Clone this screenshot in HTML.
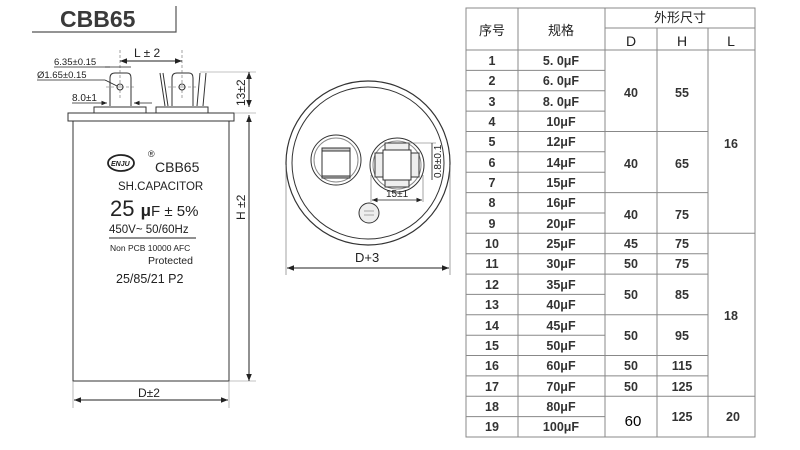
<!DOCTYPE html>
<html><head><meta charset="utf-8"><style>
body{margin:0;background:#fff;}
svg{display:block;font-family:"Liberation Sans","Noto Sans CJK SC",sans-serif;}
</style></head><body>
<svg width="800" height="450" viewBox="0 0 800 450" xmlns="http://www.w3.org/2000/svg">
<defs>
<marker id="a" viewBox="0 0 10 10" refX="10" refY="5" markerWidth="7" markerHeight="7" orient="auto-start-reverse"><path d="M0,1 L10,5 L0,9z" fill="#222"/></marker>
</defs>
<text x="60" y="27" font-size="23" font-weight="bold" fill="#3a3a3a">CBB65</text>
<polyline points="32,32 176,32 176,6" fill="none" stroke="#555" stroke-width="1.2"/>

<g stroke="#333" fill="none" stroke-width="1">
<rect x="68" y="113" width="166" height="8"/>
<rect x="73" y="121" width="156" height="260"/>
<rect x="94" y="107" width="52" height="6"/>
<rect x="156" y="107" width="52" height="6"/>
<path d="M110,106 V78 Q110,73 115,73 H127 Q131,73 131,78 V106"/>
<path d="M172,106 V78 Q172,73 177,73 H189 Q193,73 193,78 V106"/>
<path d="M160,73 L165,106 M168,106 L163,73 M200,73 L197,106 M203,106 L206,73"/>
</g>
<g stroke="#666" stroke-width="0.6" stroke-dasharray="3,2" fill="none">
<line x1="120" y1="50" x2="120" y2="100"/><line x1="182" y1="50" x2="182" y2="100"/>
<line x1="106" y1="87" x2="136" y2="87"/><line x1="168" y1="87" x2="198" y2="87"/>
</g>
<circle cx="120" cy="87" r="3" fill="none" stroke="#333"/>
<circle cx="182" cy="87" r="3" fill="none" stroke="#333"/>
<line x1="120" y1="61" x2="182" y2="61" stroke="#222" marker-start="url(#a)" marker-end="url(#a)"/>
<text x="134" y="57" font-size="12" fill="#222">L ± 2</text>
<text x="54" y="65" font-size="9.5" fill="#222">6.35±0.15</text>
<line x1="54" y1="67" x2="110" y2="67" stroke="#222" stroke-width="0.8"/>
<line x1="105" y1="67" x2="131" y2="67" stroke="#222" stroke-width="0.8"/>
<text x="37" y="78" font-size="9.5" fill="#222">Ø1.65±0.15</text>
<line x1="37" y1="80" x2="105" y2="80" stroke="#222" stroke-width="0.8"/>
<line x1="105" y1="80" x2="117" y2="86" stroke="#222" stroke-width="0.8"/>
<text x="72" y="101" font-size="10" fill="#222">8.0±1</text>
<line x1="72" y1="103" x2="107" y2="103" stroke="#222" stroke-width="0.8" marker-end="url(#a)"/>
<line x1="152" y1="103" x2="134" y2="103" stroke="#222" stroke-width="0.8" marker-end="url(#a)"/>
<line x1="200" y1="72" x2="256" y2="72" stroke="#888" stroke-width="0.6"/>
<line x1="234" y1="113" x2="256" y2="113" stroke="#888" stroke-width="0.6"/>
<line x1="229" y1="381" x2="256" y2="381" stroke="#888" stroke-width="0.6"/>
<line x1="249" y1="72" x2="249" y2="107" stroke="#222" marker-start="url(#a)" marker-end="url(#a)"/>
<line x1="249" y1="115" x2="249" y2="381" stroke="#222" marker-start="url(#a)" marker-end="url(#a)"/>
<text transform="translate(245,106) rotate(-90)" font-size="12" fill="#222">13±2</text>
<text transform="translate(245,220) rotate(-90)" font-size="12" fill="#222">H ±2</text>
<line x1="73" y1="381" x2="73" y2="408" stroke="#888" stroke-width="0.6"/>
<line x1="229" y1="381" x2="229" y2="408" stroke="#888" stroke-width="0.6"/>
<line x1="74" y1="400" x2="228" y2="400" stroke="#222" marker-start="url(#a)" marker-end="url(#a)"/>
<text x="138" y="397" font-size="12" fill="#222">D±2</text>
<ellipse cx="121" cy="163" rx="13" ry="8" fill="none" stroke="#222" stroke-width="1.8"/>
<text x="111" y="166" font-size="7" font-style="italic" font-weight="bold" fill="#222">ENJU</text>
<text x="148" y="157" font-size="9" fill="#222">®</text>
<text x="155" y="172" font-size="14" fill="#222">CBB65</text>
<text x="118" y="190" font-size="11.5" fill="#222">SH.CAPACITOR</text>
<text x="110" y="216" font-size="22" fill="#222">25 <tspan font-size="17" font-weight="bold">μ</tspan><tspan font-size="15">F ± 5%</tspan></text>
<text x="109" y="233" font-size="11.5" fill="#222">450V~ 50/60Hz</text>
<line x1="109" y1="238" x2="196" y2="238" stroke="#222"/>
<text x="110" y="251" font-size="8.5" fill="#222">Non PCB  10000 AFC</text>
<text x="148" y="264" font-size="10.5" fill="#222">Protected</text>
<text x="116" y="283" font-size="12.5" fill="#222">25/85/21 P2</text>

<g stroke="#333" fill="none">
<circle cx="368" cy="163" r="82" stroke-width="1.2"/>
<circle cx="368" cy="163" r="76"/>
<circle cx="336" cy="160" r="25"/><circle cx="336" cy="160" r="22" stroke="#888"/>
<rect x="322" y="148" width="28" height="28"/>
<rect x="322" y="148" width="28" height="3" fill="#ccc"/>
<rect x="322" y="176" width="28" height="2" fill="#ccc"/>
<circle cx="397" cy="165" r="27"/><circle cx="397" cy="165" r="24" stroke="#888"/>
<rect x="383" y="150" width="28" height="30"/>
<rect x="385" y="143" width="24" height="7" fill="#eee"/>
<rect x="385" y="180" width="24" height="7" fill="#eee"/>
<rect x="375" y="153" width="8" height="24" fill="#eee"/>
<rect x="411" y="153" width="8" height="24" fill="#eee"/>
<circle cx="369" cy="213" r="10" fill="#eee"/>
</g>
<line x1="364" y1="211" x2="374" y2="211" stroke="#777" stroke-width="0.6"/>
<line x1="364" y1="215" x2="374" y2="215" stroke="#777" stroke-width="0.6"/>
<line x1="406" y1="143" x2="436" y2="143" stroke="#666" stroke-width="0.6"/>
<line x1="432" y1="143" x2="432" y2="180" stroke="#222" stroke-width="0.8"/>
<text transform="translate(441,178) rotate(-90)" font-size="10" fill="#222">0.8±0.1</text>
<line x1="371" y1="175" x2="371" y2="202" stroke="#666" stroke-width="0.6"/>
<line x1="423" y1="175" x2="423" y2="202" stroke="#666" stroke-width="0.6"/>
<line x1="372" y1="200" x2="422" y2="200" stroke="#222" stroke-width="0.8" marker-start="url(#a)" marker-end="url(#a)"/>
<text x="386" y="197" font-size="10" fill="#222">15±1</text>
<line x1="286" y1="165" x2="286" y2="275" stroke="#666" stroke-width="0.6"/>
<line x1="450" y1="165" x2="450" y2="275" stroke="#666" stroke-width="0.6"/>
<line x1="287" y1="268" x2="449" y2="268" stroke="#222" marker-start="url(#a)" marker-end="url(#a)"/>
<text x="355" y="262" font-size="13" fill="#222">D+3</text>

<g stroke="#888" stroke-width="1" fill="none">
<rect x="466" y="8" width="289" height="429"/>
<line x1="518" y1="8" x2="518" y2="437"/>
<line x1="605" y1="8" x2="605" y2="437"/>
<line x1="657" y1="28" x2="657" y2="437"/>
<line x1="708" y1="28" x2="708" y2="437"/>
<line x1="605" y1="28" x2="755" y2="28"/>
<line x1="466" y1="50" x2="755" y2="50"/>
</g>
<g stroke="#888" stroke-width="1">
<path d="M466,70.4H605M466,90.7H605M466,111.1H605M466,131.5H605M466,151.8H605M466,172.2H605M466,192.6H605M466,213H605M466,233.3H605M466,253.7H605M466,274.1H605M466,294.4H605M466,314.8H605M466,335.2H605M466,355.5H605M466,375.9H605M466,396.3H605M466,416.6H605"/>
<path d="M605,131.5H708M605,192.6H708M605,233.3H755M605,253.7H708M605,274.1H708M605,314.8H708M605,355.5H708M605,375.9H708M605,396.3H755"/>
</g>
<g font-size="13" fill="#222" text-anchor="middle">
<text x="492" y="35">序号</text><text x="561" y="35">规格</text>
<text x="680" y="22">外形尺寸</text>
<text x="631" y="46" font-size="14">D</text><text x="682" y="46" font-size="14">H</text><text x="731" y="46" font-size="14">L</text>
</g>
<g font-size="12.5" font-weight="bold" fill="#333" text-anchor="middle">
<text x="492" y="65">1</text><text x="492" y="85">2</text><text x="492" y="106">3</text><text x="492" y="126">4</text><text x="492" y="146">5</text><text x="492" y="167">6</text><text x="492" y="187">7</text><text x="492" y="207">8</text><text x="492" y="228">9</text><text x="492" y="248">10</text><text x="492" y="268">11</text><text x="492" y="289">12</text><text x="492" y="309">13</text><text x="492" y="330">14</text><text x="492" y="350">15</text><text x="492" y="370">16</text><text x="492" y="391">17</text><text x="492" y="411">18</text><text x="492" y="431">19</text>
<text x="561" y="65">5. 0μF</text><text x="561" y="85">6. 0μF</text><text x="561" y="106">8. 0μF</text><text x="561" y="126">10μF</text><text x="561" y="146">12μF</text><text x="561" y="167">14μF</text><text x="561" y="187">15μF</text><text x="561" y="207">16μF</text><text x="561" y="228">20μF</text><text x="561" y="248">25μF</text><text x="561" y="268">30μF</text><text x="561" y="289">35μF</text><text x="561" y="309">40μF</text><text x="561" y="330">45μF</text><text x="561" y="350">50μF</text><text x="561" y="370">60μF</text><text x="561" y="391">70μF</text><text x="561" y="411">80μF</text><text x="561" y="431">100μF</text>
<text x="631" y="97">40</text><text x="682" y="97">55</text>
<text x="631" y="168">40</text><text x="682" y="168">65</text>
<text x="631" y="219">40</text><text x="682" y="219">75</text>
<text x="731" y="148">16</text>
<text x="631" y="248">45</text><text x="682" y="248">75</text>
<text x="631" y="268">50</text><text x="682" y="268">75</text>
<text x="631" y="299">50</text><text x="682" y="299">85</text>
<text x="631" y="340">50</text><text x="682" y="340">95</text>
<text x="631" y="370">50</text><text x="682" y="370">115</text>
<text x="631" y="391">50</text><text x="682" y="391">125</text>
<text x="731" y="320">18</text>
<text x="633" y="426" font-size="15" font-weight="normal" fill="#000">60</text>
<text x="682" y="421">125</text><text x="733" y="421">20</text>
</g>
</svg>
</body></html>
